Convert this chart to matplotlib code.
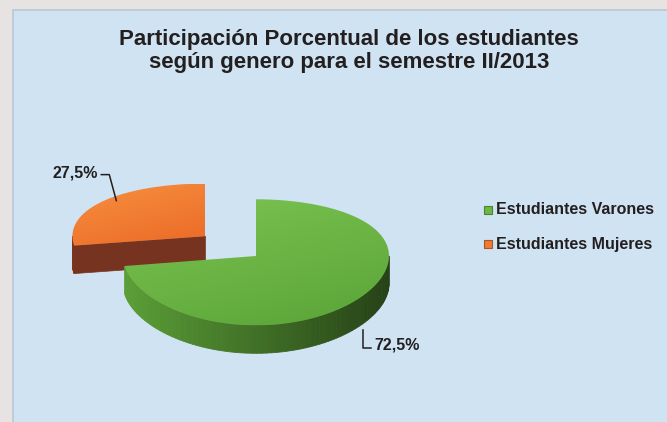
import numpy as np
import matplotlib.pyplot as plt
from matplotlib.patches import Polygon, Rectangle
from matplotlib.colors import to_rgb

# data
categories = ['Estudiantes Varones', 'Estudiantes Mujeres']
values = [72.5, 27.5]
labels = ['72,5%', '27,5%']
explode = [0.0, 0.5]

top_colors = [('#7cc552', '#5aa337'), ('#f68f40', '#ec6a26')]
side_colors = ['#5a9c36', '#76331f']
legend_colors = ['#6cb944', '#ef7a31']

plt.rcParams['font.family'] = ['Liberation Sans', 'DejaVu Sans']
TXT = '#231f20'

fig = plt.figure(figsize=(6.67, 4.22), dpi=100)
fig.patch.set_facecolor('#e6e3e2')
ax = fig.add_axes([0, 0, 1, 1])
ax.set_xlim(0, 667)
ax.set_ylim(422, 0)
ax.axis('off')

# panel
ax.add_patch(Rectangle((13, 10), 660, 420, facecolor='#cfe3f2',
                       edgecolor='#b9c8d4', linewidth=1.2, zorder=0))

ax.text(349, 51, 'Participación Porcentual de los estudiantes\nsegún genero para el semestre II/2013',
        ha='center', va='center', fontsize=16, fontweight='bold', color=TXT,
        linespacing=1.12)

# pie geometry (pixel space), with a little perspective on the y axis
cx, cy = 256, 256
a, b = 133, 63
depth = 28
persp = 0.1


def pt(theta, x0, v0, r=1.0):
    """x position and unprojected vertical offset from the pie centre"""
    t = np.radians(theta)
    return x0 + r * a * np.cos(t), v0 - r * b * np.sin(t)


def proj(v):
    return cy + v * (1 + persp * v / b)


def shade(color, f):
    return tuple(min(1, c * f) for c in to_rgb(color))


def gradient_fill(poly, c1, c2):
    xs, ys = poly[:, 0], poly[:, 1]
    x0, x1, y0, y1 = xs.min(), xs.max(), ys.min(), ys.max()
    n = 64
    g = np.linspace(0, 1, n)
    gx, gy = np.meshgrid(g, g)
    w = np.clip(0.65 * gy + 0.35 * gx, 0, 1)[..., None]
    img = (1 - w) * np.array(to_rgb(c1)) + w * np.array(to_rgb(c2))
    patch = Polygon(poly, closed=True, facecolor='none', edgecolor='none')
    ax.add_patch(patch)
    im = ax.imshow(img, extent=(x0, x1, y1, y0), aspect='auto', zorder=3,
                   interpolation='bilinear')
    im.set_clip_path(patch)


# angles: start at 12 o'clock, clockwise
fracs = np.array(values) / sum(values)
starts = 90 - 360 * np.concatenate([[0], np.cumsum(fracs)[:-1]])
ends = starts - 360 * fracs

order = np.argsort(-np.array(explode))  # exploded (back) slice first
for i in order:
    t1, t2 = ends[i], starts[i]
    mid = (t1 + t2) / 2
    x0, v0 = pt(mid, cx, 0, explode[i])
    y0 = proj(v0)
    thetas = np.linspace(t1, t2, 120)

    # radial walls that face the viewer
    for edge, sgn in ((t1, 1), (t2, -1)):
        if sgn * np.cos(np.radians(edge)) > 0.05:
            ex, ev = pt(edge, x0, v0)
            ey = proj(ev)
            wall = np.array([[x0, y0], [ex, ey], [ex, ey + depth], [x0, y0 + depth]])
            ax.add_patch(Polygon(wall, closed=True, facecolor=side_colors[i],
                                 edgecolor=side_colors[i], linewidth=0.5, zorder=2))

    # outer wall for the front half
    for k in range(len(thetas) - 1):
        ta, tb = thetas[k], thetas[k + 1]
        tm = np.radians((ta + tb) / 2)
        if np.sin(tm) > 0:
            continue
        xa, va = pt(ta, x0, v0)
        xb, vb = pt(tb, x0, v0)
        ya, yb = proj(va), proj(vb)
        f = 0.72 + 0.3 * (-np.cos(tm))
        col = shade(side_colors[i], f)
        ax.add_patch(Polygon([[xa, ya], [xb, yb], [xb, yb + depth], [xa, ya + depth]],
                             closed=True, facecolor=col, edgecolor=col,
                             linewidth=0.6, zorder=2))

    # top face
    px, pv = pt(thetas, x0, v0)
    poly = np.column_stack([np.r_[x0, px], np.r_[y0, proj(pv)]])
    gradient_fill(poly, *top_colors[i])

    # data label with leader line
    mx, mv = pt(mid, x0, v0)
    my = proj(mv)
    if np.sin(np.radians(mid)) < 0:
        my += depth + 2
        ax.plot([mx + 6, mx + 6, mx + 14], [my, my + 18, my + 18],
                color=TXT, lw=1.1, zorder=4)
        ax.text(mx + 17, my + 15, labels[i], ha='left', va='center',
                fontsize=11.5, fontweight='bold', color=TXT)
    else:
        ax.plot([mx + 12, mx + 5, mx - 3], [my, my - 26, my - 26],
                color=TXT, lw=1.1, zorder=4)
        ax.text(mx - 6, my - 28, labels[i], ha='right', va='center',
                fontsize=11.5, fontweight='bold', color=TXT)

# legend
for i, name in enumerate(categories):
    y = 210 + 34 * i
    ax.add_patch(Rectangle((484, y - 4), 8, 8, facecolor=legend_colors[i],
                           edgecolor=shade(legend_colors[i], 0.7), linewidth=0.8, zorder=4))
    ax.text(496, y, name, ha='left', va='center', fontsize=11.5,
            fontweight='bold', color=TXT)

fig.savefig('out.png', dpi=100, facecolor=fig.get_facecolor())
